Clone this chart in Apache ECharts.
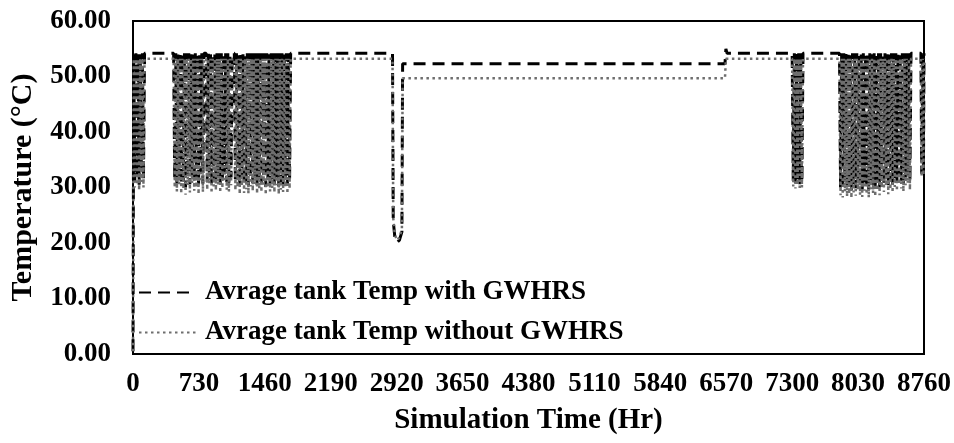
<!DOCTYPE html>
<html>
<head>
<meta charset="utf-8">
<script src="https://cdn.jsdelivr.net/npm/echarts@6/dist/echarts.min.js"></script>
<style>html,body{margin:0;padding:0;background:#fff}#c{width:954px;height:443px}</style>
</head>
<body>
<div id="c"></div>
<script>
// x tick labels (hours) and y range
const xTicks = [0, 730, 1460, 2190, 2920, 3650, 4380, 5110, 5840, 6570, 7300, 8030, 8760];
const seriesNames = ['Avrage tank Temp with GWHRS', 'Avrage tank Temp without GWHRS'];

// Simulation hours (x values)
const hours = [
  0, 8, 20, 32, 44, 56, 68, 80, 92, 104, 116, 128,
  450, 462, 474, 486, 498, 510, 522, 534, 546, 558,
  570, 582, 594, 606, 618, 630, 642, 654, 666, 678,
  690, 702, 714, 726, 738, 750, 762, 774, 786, 798,
  810, 822, 834, 846, 858, 870, 882, 894, 906, 918,
  930, 942, 954, 966, 978, 990, 1002, 1014, 1026, 1038,
  1050, 1062, 1074, 1086, 1098, 1110, 1122, 1134, 1146, 1158,
  1170, 1182, 1194, 1206, 1218, 1230, 1242, 1254, 1266, 1278,
  1290, 1302, 1314, 1326, 1338, 1350, 1362, 1374, 1386, 1398,
  1410, 1422, 1434, 1446, 1458, 1470, 1482, 1494, 1506, 1518,
  1530, 1542, 1554, 1566, 1578, 1590, 1602, 1614, 1626, 1638,
  1650, 1662, 1674, 1686, 1698, 1710, 1722, 1734, 1746,
  2874, 2882, 2900, 2925, 2950, 2978, 2986, 6556, 6566, 6578,
  7300, 7312, 7324, 7336, 7348, 7360, 7372, 7384, 7396, 7408, 7420,
  7824, 7836, 7848, 7860, 7872, 7884, 7896, 7908, 7920, 7932,
  7944, 7956, 7968, 7980, 7992, 8004, 8016, 8028, 8040, 8052,
  8064, 8076, 8088, 8100, 8112, 8124, 8136, 8148, 8160, 8172,
  8184, 8196, 8208, 8220, 8232, 8244, 8256, 8268, 8280, 8292,
  8304, 8316, 8328, 8340, 8352, 8364, 8376, 8388, 8400, 8412,
  8424, 8436, 8448, 8460, 8472, 8484, 8496, 8508, 8520, 8532,
  8544, 8556, 8568, 8580, 8592, 8604, 8616,
  8726, 8734, 8746, 8754, 8760
];

// Average tank temperature with GWHRS (°C)
const tempWith = [
  0.5, 54.2, 31.0, 54.2, 32.0, 54.0, 30.5, 54.2, 33.0, 54.2, 31.5, 54.2,
  54.2, 31.5, 54.2, 30.8, 54.0, 32.0, 54.2, 30.5, 54.2, 31.2,
  54.2, 30.0, 54.2, 31.8, 54.2, 30.6, 54.0, 32.2, 54.2, 30.9,
  54.2, 31.4, 54.2, 30.2, 54.2, 32.5, 54.2, 30.7, 54.2, 54.2,
  54.2, 31.0, 54.2, 32.0, 54.2, 30.4, 54.0, 31.6, 54.2, 30.8,
  54.2, 31.9, 54.2, 30.6, 54.2, 31.3, 54.2, 32.4, 54.2, 31.0,
  54.2, 30.7, 54.2, 31.8, 54.2, 54.2, 54.2, 30.9, 54.2, 31.5,
  54.2, 30.2, 54.2, 31.7, 54.0, 30.5, 54.2, 31.1, 54.2, 30.3,
  54.2, 31.6, 54.2, 30.8, 54.2, 32.0, 54.2, 30.4, 54.2, 31.2,
  54.2, 30.6, 54.2, 31.9, 54.2, 30.1, 54.2, 31.4, 54.0, 30.7,
  54.2, 31.3, 54.2, 30.5, 54.2, 31.8, 54.2, 30.2, 54.2, 31.0,
  54.2, 30.6, 54.2, 31.5, 54.2, 30.3, 54.2, 31.2, 54.2,
  54.2, 24.0, 21.0, 20.1, 20.5, 22.0, 52.3, 52.3, 55.0, 54.2,
  54.2, 31.2, 54.2, 30.8, 54.2, 31.5, 54.2, 30.6, 54.2, 31.0, 54.2,
  54.2, 30.0, 54.2, 29.6, 54.2, 30.8, 54.2, 29.8, 54.2, 30.3,
  54.2, 29.5, 54.2, 30.6, 54.2, 29.9, 54.2, 31.0, 54.2, 30.1,
  54.2, 29.7, 54.2, 30.9, 54.2, 30.2, 54.2, 29.6, 54.2, 31.2,
  54.2, 30.4, 54.2, 29.8, 54.2, 31.0, 54.2, 30.0, 54.2, 31.5,
  54.2, 30.6, 54.2, 31.8, 54.2, 30.2, 54.2, 31.1, 54.2, 30.5,
  54.2, 31.6, 54.2, 30.8, 54.2, 32.0, 54.2, 31.2, 54.2, 30.7,
  54.2, 31.8, 54.2, 32.2, 54.2, 31.0, 54.2,
  54.2, 32.5, 54.2, 33.0, 54.2
];

// Average tank temperature without GWHRS (°C)
const tempWithout = [
  0.5, 53.2, 30.0, 53.2, 30.5, 53.2, 29.5, 53.2, 31.0, 53.2, 30.0, 53.2,
  53.2, 30.0, 53.2, 29.3, 53.2, 30.6, 53.2, 28.9, 53.2, 29.8,
  53.2, 28.7, 53.2, 30.4, 53.2, 29.1, 53.2, 30.8, 53.2, 29.4,
  53.2, 30.0, 53.2, 28.8, 53.2, 31.0, 53.2, 29.2, 53.2, 53.2,
  53.2, 29.6, 53.2, 30.7, 53.2, 29.0, 53.2, 30.2, 53.2, 29.5,
  53.2, 30.5, 53.2, 29.1, 53.2, 29.9, 53.2, 31.0, 53.2, 29.6,
  53.2, 29.3, 53.2, 30.4, 53.2, 53.2, 53.2, 29.5, 53.2, 30.1,
  53.2, 28.8, 53.2, 30.3, 53.2, 29.0, 53.2, 29.7, 53.2, 28.9,
  53.2, 30.2, 53.2, 29.4, 53.2, 30.6, 53.2, 28.9, 53.2, 29.8,
  53.2, 29.2, 53.2, 30.5, 53.2, 28.7, 53.2, 30.0, 53.2, 29.3,
  53.2, 29.9, 53.2, 29.1, 53.2, 30.4, 53.2, 28.8, 53.2, 29.6,
  53.2, 29.2, 53.2, 30.1, 53.2, 28.9, 53.2, 29.8, 53.2,
  53.2, 24.5, 21.5, 20.5, 21.0, 22.5, 49.7, 49.7, 53.2, 53.2,
  53.2, 30.2, 53.2, 29.8, 53.2, 30.5, 53.2, 29.6, 53.2, 30.0, 53.2,
  53.2, 28.6, 53.2, 28.2, 53.2, 29.3, 53.2, 28.4, 53.2, 28.9,
  53.2, 28.1, 53.2, 29.1, 53.2, 28.5, 53.2, 29.6, 53.2, 28.7,
  53.2, 28.3, 53.2, 29.4, 53.2, 28.8, 53.2, 28.2, 53.2, 29.7,
  53.2, 29.0, 53.2, 28.4, 53.2, 29.5, 53.2, 28.6, 53.2, 30.0,
  53.2, 29.2, 53.2, 30.3, 53.2, 28.8, 53.2, 29.7, 53.2, 29.1,
  53.2, 30.1, 53.2, 29.4, 53.2, 30.6, 53.2, 29.8, 53.2, 29.3,
  53.2, 30.4, 53.2, 30.8, 53.2, 29.6, 53.2,
  53.2, 32.0, 53.2, 32.2, 53.2
];

const FONT = 'Liberation Serif';
const pairs = (vals) => hours.map((h, i) => [h, vals[i]]);

const chart = echarts.init(document.getElementById('c'), null, { renderer: 'canvas' });
chart.setOption({
  animation: false,
  backgroundColor: '#fff',
  grid: {
    left: 133, right: 29, top: 21, bottom: 89,
    show: true, borderColor: '#000', borderWidth: 2, backgroundColor: 'transparent'
  },
  legend: {
    orient: 'vertical',
    left: 138, top: 279,
    padding: 0,
    itemWidth: 57, itemHeight: 14, itemGap: 13,
    itemStyle: { opacity: 0 },
    textStyle: { fontFamily: FONT, fontWeight: 'bold', fontSize: 27, color: '#000', padding: [0, 0, 0, 4] },
    data: seriesNames
  },
  xAxis: {
    type: 'value', min: 0, max: 8760, interval: 730,
    name: 'Simulation Time (Hr)', nameLocation: 'middle', nameGap: 52,
    nameTextStyle: { fontFamily: FONT, fontWeight: 'bold', fontSize: 29, color: '#000' },
    axisLine: { show: true, lineStyle: { color: '#000', width: 2 } },
    axisTick: { show: false },
    splitLine: { show: false },
    axisLabel: {
      fontFamily: FONT, fontWeight: 'bold', fontSize: 27, color: '#000', margin: 17,
      formatter: (v) => xTicks.includes(v) ? String(v) : ''
    }
  },
  yAxis: {
    type: 'value', min: 0, max: 60, interval: 10,
    name: 'Temperature (°C)', nameLocation: 'middle', nameGap: 95,
    nameTextStyle: { fontFamily: FONT, fontWeight: 'bold', fontSize: 30, color: '#000' },
    axisLine: { show: true, lineStyle: { color: '#000', width: 2 } },
    axisTick: { show: false },
    splitLine: { show: false },
    axisLabel: {
      fontFamily: FONT, fontWeight: 'bold', fontSize: 27, color: '#000', margin: 22,
      formatter: (v) => v.toFixed(2)
    }
  },
  series: [
    {
      name: seriesNames[0], type: 'line', data: pairs(tempWith),
      symbol: 'none', z: 2,
      lineStyle: { color: '#000', width: 3, type: [12, 7] },
      itemStyle: { color: '#000' }
    },
    {
      name: seriesNames[1], type: 'line', data: pairs(tempWithout),
      symbol: 'none', z: 3,
      lineStyle: { color: '#6e6e6e', width: 2.5, type: [2.5, 3.5] },
      itemStyle: { color: '#6e6e6e' }
    }
  ]
});
</script>
</body>
</html>
